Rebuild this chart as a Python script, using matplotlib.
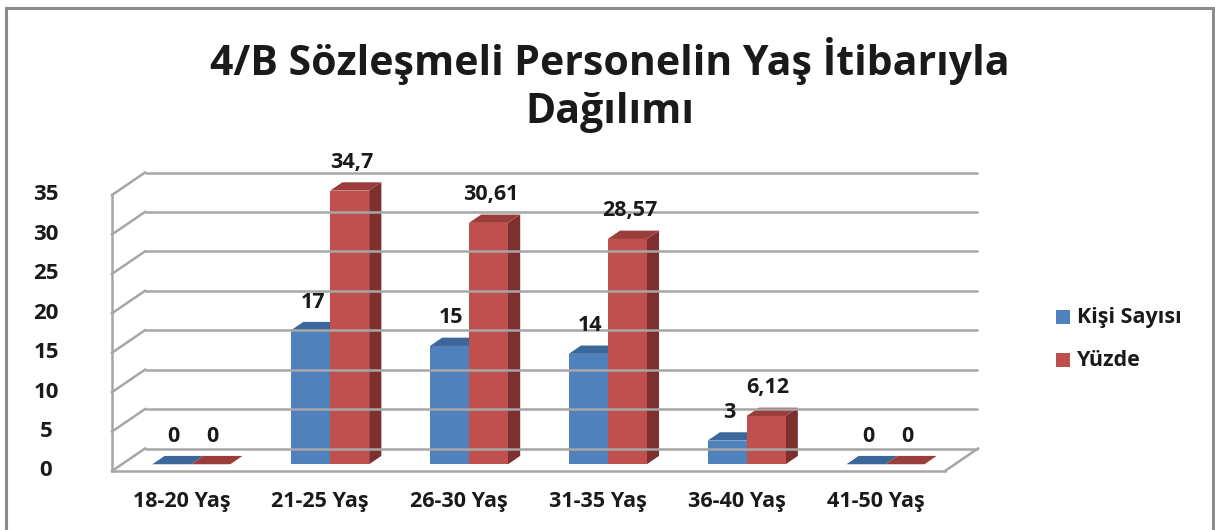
import matplotlib
matplotlib.use("Agg")
import matplotlib.pyplot as plt
from matplotlib.patches import Polygon, Rectangle

categories = ["18-20 Yaş", "21-25 Yaş", "26-30 Yaş", "31-35 Yaş", "36-40 Yaş", "41-50 Yaş"]
kisi_sayisi = [0, 17, 15, 14, 3, 0]
yuzde = [0, 34.7, 30.61, 28.57, 6.12, 0]
series_names = ["Kişi Sayısı", "Yüzde"]
yticks = [0, 5, 10, 15, 20, 25, 30, 35]
title = "4/B Sözleşmeli Personelin Yaş İtibarıyla\nDağılımı"

W, H = 1215, 530
fig = plt.figure(figsize=(W / 100, H / 100), dpi=100)
fig.patch.set_facecolor("white")
FONT = "Open Sans"

# outer chart border
fig.add_artist(Rectangle((6 / W, -0.02), (1213 - 6) / W, (H - 8) / H + 0.02,
                         transform=fig.transFigure, fill=False, edgecolor="#8c8c8c", lw=2.2))

# front plot box: x 112..945, y(0)=471, y(35)=195 (pixels from top)
x0p, x1p, y0p, y1p = 112, 945, 471, 195
ax = fig.add_axes([x0p / W, (H - y0p) / H, (x1p - x0p) / W, (y0p - y1p) / H])
ax.set_xlim(-0.5, len(categories) - 0.5)
ax.set_ylim(0, 35)
ax.axis("off")

px_x = (len(categories)) / (x1p - x0p)   # data units per pixel (x)
px_y = 35 / (y0p - y1p)                  # data units per pixel (y)
DX = 33 * px_x
DY = 22.5 * px_y
grid_c = "#a6a6a6"
xl, xr = -0.5, len(categories) - 0.5

# back wall gridlines + left wall diagonals
for v in yticks:
    ax.plot([xl + DX, xr + DX], [v + DY, v + DY], color=grid_c, lw=1.8, clip_on=False, solid_capstyle="butt")
    ax.plot([xl, xl + DX], [v, v + DY], color=grid_c, lw=1.8, clip_on=False)
# left front vertical
ax.plot([xl, xl], [0, 35], color=grid_c, lw=1.8, clip_on=False)
# floor
ax.plot([xl, xr], [0, 0], color=grid_c, lw=1.8, clip_on=False)
ax.plot([xr, xr + DX], [0, DY], color=grid_c, lw=1.8, clip_on=False)

# bars
bw = 39 * px_x
f0, fb = 0.30, 0.37
colors = [("#4F81BD", "#3C679B", "#345A88"), ("#C0504D", "#9B3E3B", "#7E302E")]
for i in range(len(categories)):
    for s, vals in enumerate([kisi_sayisi, yuzde]):
        v = vals[i]
        ox, oy = f0 * DX, f0 * DY
        ddx, ddy = fb * DX, fb * DY
        xa = i - bw + s * bw + ox
        xb = xa + bw
        yb = oy
        yt = oy + v
        front, top, side = colors[s]
        if v > 0:
            ax.add_patch(Polygon([(xb, yb), (xb + ddx, yb + ddy), (xb + ddx, yt + ddy), (xb, yt)],
                                 closed=True, facecolor=side, edgecolor="none", clip_on=False))
            ax.add_patch(Polygon([(xa, yb), (xb, yb), (xb, yt), (xa, yt)],
                                 closed=True, facecolor=front, edgecolor="none", clip_on=False))
        ax.add_patch(Polygon([(xa, yt), (xb, yt), (xb + ddx, yt + ddy), (xa + ddx, yt + ddy)],
                             closed=True, facecolor=top, edgecolor="none", clip_on=False))
        lab = f"{v:g}".replace(".", ",")
        ax.annotate(lab, (xa + bw / 2 + 2 * px_x, yt), xytext=(0, 28), textcoords="offset pixels",
                    ha="center", va="center", fontsize=15.5, fontweight="bold", family=FONT,
                    color="#1a1a1a", annotation_clip=False)

# y tick labels
for v in yticks:
    ax.text(xl - 66 * px_x, v, str(v), ha="center", va="center", fontsize=16,
            fontweight="bold", family=FONT, color="#1a1a1a", clip_on=False)
# category labels
for i, c in enumerate(categories):
    ax.text(i + 0.0, -31 * px_y, c, ha="center", va="center", fontsize=15.5,
            fontweight="bold", family=FONT, color="#1a1a1a", clip_on=False)

# title
fig.text(610 / W, 1 - 85 / H, title, ha="center", va="center", fontsize=29.5,
         fontweight="bold", family=FONT, color="#1a1a1a", linespacing=1.22)

# legend
for k, name in enumerate(series_names):
    yy = 317 + k * 43
    fig.add_artist(Rectangle((1056 / W, 1 - (yy + 7) / H), 14 / W, 14 / H,
                             transform=fig.transFigure, facecolor=colors[k][0], edgecolor="none"))
    fig.text(1077 / W, 1 - yy / H, name, ha="left", va="center", fontsize=15.5,
             fontweight="bold", family=FONT, color="#1a1a1a")

fig.savefig("out.png", dpi=100)
